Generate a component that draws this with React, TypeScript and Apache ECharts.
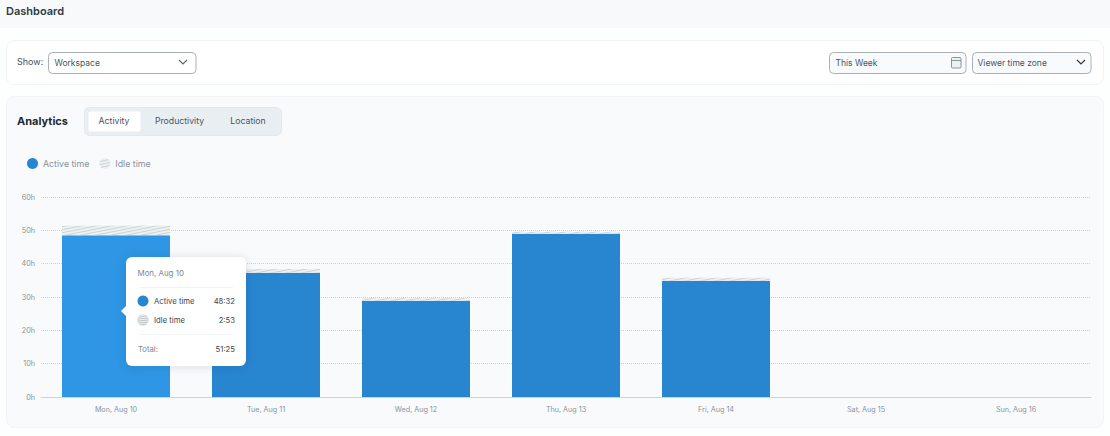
import { useEffect, useRef } from "react";
import * as echarts from "echarts";

const days = ["Mon, Aug 10", "Tue, Aug 11", "Wed, Aug 12", "Thu, Aug 13", "Fri, Aug 14", "Sat, Aug 15", "Sun, Aug 16"];
const activeHours = [48.53, 37.3, 28.9, 49.0, 34.9, 0, 0];
const idleHours = [2.88, 1.1, 0.7, 0.6, 0.9, 0, 0];
const tabs = ["Activity", "Productivity", "Location"];
const tooltipRows = [
  { label: "Active time", value: "48:32" },
  { label: "Idle time", value: "2:53" },
];

const FONT = "Inter";
const BLUE = "#2885d0";
const BLUE_HOVER = "#2e96e4";

function label(text: string, x: number, y: number, fontSize: number, fill: string, extra: any = {}) {
  return {
    type: "text",
    x,
    y,
    z: extra.z ?? 1,
    style: { text, fontSize, fill, fontFamily: FONT, verticalAlign: "middle", align: extra.align ?? "left", fontWeight: extra.fontWeight ?? 400 },
  };
}

function box(x: number, y: number, width: number, height: number, r: number, fill: string, stroke?: string) {
  return {
    type: "rect",
    z: 0,
    shape: { x: x + 0.5, y: y + 0.5, width, height, r },
    style: { fill, stroke: stroke ?? "none", lineWidth: 1 },
  };
}

function chevron(cx: number, cy: number, stroke: string) {
  return {
    type: "polyline",
    z: 1,
    shape: { points: [[cx - 4, cy - 2], [cx, cy + 2], [cx + 4, cy - 2]] },
    style: { stroke, fill: "none", lineWidth: 1.2 },
  };
}

// the striped idle marker for the tooltip
function idleDot(cx: number, cy: number, z: number) {
  const offsets = [-4, -2, 0, 2, 4];
  return [
    { type: "circle", z, shape: { cx, cy, r: 5.5 }, style: { fill: "#f4f6f7", stroke: "#d5dadd", lineWidth: 0.5 } },
    ...offsets.map((d) => {
      const half = Math.sqrt(5.2 * 5.2 - d * d);
      return {
        type: "polyline",
        z: z + 1,
        shape: { points: [[cx - half, cy + d], [cx, cy + d + 0.4], [cx + half, cy + d]] },
        style: { stroke: "#a9b2b8", fill: "none", lineWidth: 0.8 },
      };
    }),
  ];
}

function chrome() {
  return [
    { type: "rect", z: 0, shape: { x: 0, y: 0, width: 1110, height: 28 }, style: { fill: "#f7f9fa" } },
    label("Dashboard", 6, 10.5, 11, "#2f3a44", { fontWeight: 600 }),
    box(6, 40, 1097, 44, 8, "#ffffff", "#f0f2f4"),
    box(6, 96, 1097, 331, 8, "#f8fafb", "#f2f4f6"),
    label("Show:", 17, 61.5, 9, "#4a545d"),
    box(48, 52, 147.5, 21, 4, "#ffffff", "#a9b1b8"),
    label("Workspace", 54.5, 62.5, 8.5, "#4a545d"),
    chevron(183, 62, "#5d666e"),
    box(829, 52, 136.5, 21, 4, "#f8fafb", "#a9b1b8"),
    label("This Week", 835.5, 62.5, 8.5, "#4a545d"),
    { type: "rect", z: 1, shape: { x: 951.5, y: 57.5, width: 9.5, height: 10.5, r: 1 }, style: { fill: "#eef1f3", stroke: "#7f8a92", lineWidth: 0.9 } },
    { type: "line", z: 1, shape: { x1: 951.5, y1: 60.5, x2: 961, y2: 60.5 }, style: { stroke: "#7f8a92", lineWidth: 0.9 } },
    box(972, 52, 118.5, 21, 4, "#f8fafb", "#a9b1b8"),
    label("Viewer time zone", 977.5, 62.5, 8.5, "#4a545d"),
    chevron(1081, 62, "#2f3a44"),
    label("Analytics", 17, 120.5, 11, "#1f2830", { fontWeight: 700 }),
    box(84, 107, 197, 28, 5, "#e9eef2", "#e3e9ee"),
    box(88, 111, 52, 20, 2, "#ffffff"),
    label(tabs[0], 114, 121, 8.7, "#4a545d", { align: "center" }),
    label(tabs[1], 179.5, 121, 8.7, "#4a545d", { align: "center" }),
    label(tabs[2], 248, 121, 8.7, "#4a545d", { align: "center" }),
  ];
}

function tooltipCard() {
  const z = 100;
  const rows = tooltipRows.flatMap((row, i) => {
    const y = 301 + i * 19;
    return [
      label(row.label, 154, y, 7.7, "#3c464f", { z }),
      label(row.value, 235, y, 7.7, "#3c464f", { z, align: "right" }),
    ];
  });
  return [
    {
      type: "rect",
      z,
      shape: { x: 126, y: 257, width: 120, height: 109, r: 6 },
      style: { fill: "#ffffff", shadowBlur: 10, shadowColor: "rgba(40,60,80,0.12)", shadowOffsetY: 1 },
    },
    { type: "polygon", z, shape: { points: [[121, 311], [126, 306], [126, 316]] }, style: { fill: "#ffffff" } },
    label(days[0], 137.5, 272.5, 7.9, "#7d868e", { z }),
    { type: "line", z, shape: { x1: 140, y1: 287.5, x2: 233, y2: 287.5 }, style: { stroke: "#f0f2f4", lineWidth: 1 } },
    { type: "circle", z, shape: { cx: 143, cy: 301, r: 5.5 }, style: { fill: BLUE } },
    ...idleDot(143, 320, z),
    ...rows,
    { type: "line", z, shape: { x1: 140, y1: 334.5, x2: 233, y2: 334.5 }, style: { stroke: "#f0f2f4", lineWidth: 1 } },
    label("Total:", 138, 349, 7.7, "#7d868e", { z }),
    label("51:25", 235, 349, 7.7, "#3c464f", { z, align: "right" }),
  ];
}

export default function App() {
  const chartRef = useRef<HTMLDivElement>(null);

  useEffect(() => {
    const chart = echarts.init(chartRef.current, null, { renderer: "svg" });

    chart.setOption({
      animation: false,
      backgroundColor: "#fdfefe",
      textStyle: { fontFamily: FONT },
      grid: { left: 41, right: 19, top: 197, bottom: 39 },
      legend: {
        left: 22,
        top: 153,
        itemWidth: 11,
        itemHeight: 11,
        itemGap: 10,
        icon: "circle",
        selectedMode: false,
        textStyle: { color: "#8a929a", fontSize: 8.8, fontFamily: FONT },
        data: ["Active time", "Idle time"],
      },
      xAxis: {
        type: "category",
        data: days,
        axisTick: { show: false },
        axisLine: { lineStyle: { color: "#cfd4d8", width: 1 } },
        axisLabel: { color: "#8a929a", fontSize: 7.2, margin: 9, interval: 0 },
      },
      yAxis: {
        type: "value",
        min: 0,
        max: 60,
        interval: 10,
        axisLine: { show: false },
        axisTick: { show: false },
        axisLabel: { color: "#8a929a", fontSize: 7.2, margin: 6, formatter: "{value}h" },
        splitLine: { lineStyle: { color: "#cdd2d6", type: "dotted", width: 1 } },
      },
      series: [
        {
          name: "Active time",
          type: "bar",
          stack: "time",
          barWidth: 108,
          itemStyle: { color: BLUE },
          data: activeHours.map((v, i) => (i === 0 ? { value: v, itemStyle: { color: BLUE_HOVER } } : v)),
        },
        {
          name: "Idle time",
          type: "bar",
          stack: "time",
          barWidth: 108,
          itemStyle: {
            color: "#eef1f2",
            decal: {
              symbol: "rect",
              color: "#ccd3d6",
              dashArrayX: [1, 0],
              dashArrayY: [1, 2],
              rotation: -0.2,
            },
          },
          data: idleHours,
        },
      ],
      graphic: { elements: [...chrome(), ...tooltipCard()] },
    });

    return () => {
      chart.dispose();
    };
  }, []);

  return <div ref={chartRef} style={{ position: "absolute", left: 0, top: 0, width: 1110, height: 436 }} />;
}
